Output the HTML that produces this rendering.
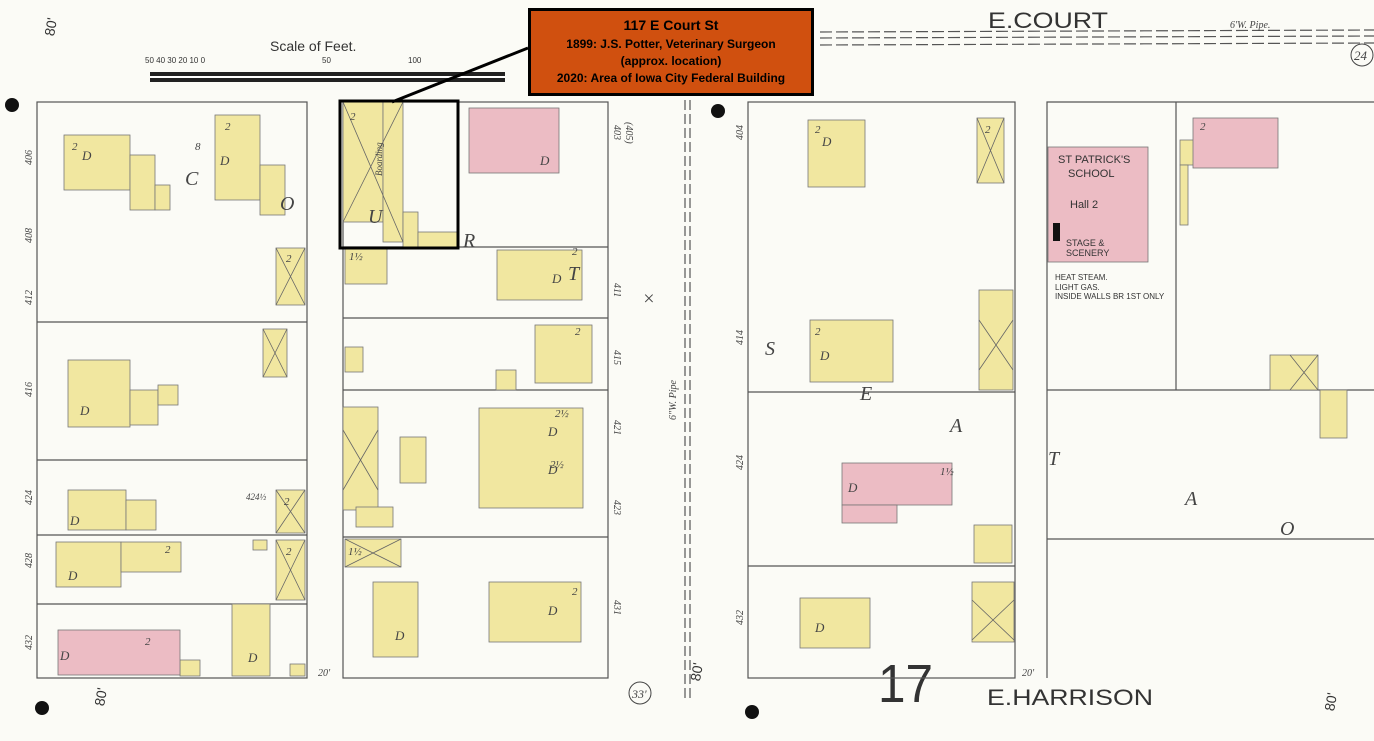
<!DOCTYPE html>
<html><head><meta charset="utf-8"><style>
html,body{margin:0;padding:0;background:#fbfbf6;}
svg{display:block}
.t{font-family:"Liberation Sans",sans-serif;fill:#333}
.i{font-family:"Liberation Serif",serif;font-style:italic;fill:#444}
</style></head><body>
<svg width="1374" height="741" viewBox="0 0 1374 741" xmlns="http://www.w3.org/2000/svg">
<rect width="1374" height="741" fill="#fbfbf6"/>
<g stroke="#555" stroke-width="1.2" fill="none">
<path d="M820 32 L1374 30 M820 38 L1374 36 M820 45 L1374 43" stroke-dasharray="12 4"/>
<path d="M685 100 L685 700 M690 100 L690 700" stroke-dasharray="10 4"/>
</g>
<rect x="150" y="72" width="355" height="10" fill="#222"/>
<rect x="150" y="76" width="355" height="2" fill="#fff"/>
<text x="270" y="51" class="t" font-size="14">Scale of Feet.</text>
<text x="145" y="63" class="t" font-size="8">50  40  30  20  10    0</text>
<text x="322" y="63" class="t" font-size="8">50</text>
<text x="408" y="63" class="t" font-size="8">100</text>
<text x="40" y="40" class="t" font-size="14" transform="rotate(-80 45 30)">80'</text>
<text x="988" y="28" class="t" font-size="22" textLength="120" lengthAdjust="spacingAndGlyphs">E.COURT</text>
<text x="1230" y="28" class="i" font-size="10">6'W. Pipe.</text>
<circle cx="1362" cy="55" r="11" fill="none" stroke="#444"/>
<text x="1354" y="60" class="i" font-size="13">24</text>
<text x="987" y="705" class="t" font-size="22" textLength="166" lengthAdjust="spacingAndGlyphs">E.HARRISON</text>
<text x="878" y="702" class="t" font-size="54" textLength="55" lengthAdjust="spacingAndGlyphs">17</text>
<circle cx="12" cy="105" r="7" fill="#111"/>
<circle cx="42" cy="708" r="7" fill="#111"/>
<circle cx="718" cy="111" r="7" fill="#111"/>
<circle cx="752" cy="712" r="7" fill="#111"/>
<circle cx="640" cy="693" r="11" fill="none" stroke="#444"/>
<text x="632" y="698" class="i" font-size="12">33'</text>
<text x="690" y="690" class="t" font-size="14" transform="rotate(-80 690 680)">80'</text>
<text x="1320" y="715" class="t" font-size="14" transform="rotate(-80 1325 705)">80'</text>
<text x="90" y="710" class="t" font-size="14" transform="rotate(-80 95 700)">80'</text>
<g fill="none" stroke="#555" stroke-width="1.2">
<rect x="37" y="102" width="270" height="576"/>
<path d="M37 322H307M37 460H307M37 535H307M37 604H307"/>
<rect x="343" y="102" width="265" height="576"/>
<path d="M343 247H608M343 318H608M343 390H608M343 537H608"/>
<rect x="748" y="102" width="267" height="576"/>
<path d="M748 392H1015M748 566H1015"/>
<path d="M1047 678V102H1374M1047 390H1374M1047 539H1374M1176 102V390"/>
</g>
<g fill="#f1e7a0" stroke="#777" stroke-width="0.8">
<rect x="64" y="135" width="66" height="55"/><rect x="130" y="155" width="25" height="55"/><rect x="155" y="185" width="15" height="25"/>
<rect x="215" y="115" width="45" height="85"/><rect x="260" y="165" width="25" height="50"/>
<rect x="276" y="248" width="29" height="57"/><rect x="263" y="329" width="24" height="48"/>
<rect x="68" y="360" width="62" height="67"/><rect x="130" y="390" width="28" height="35"/><rect x="158" y="385" width="20" height="20"/>
<rect x="68" y="490" width="58" height="40"/><rect x="126" y="500" width="30" height="30"/>
<rect x="276" y="490" width="29" height="43"/>
<rect x="56" y="542" width="65" height="45"/><rect x="121" y="542" width="60" height="30"/><rect x="253" y="540" width="14" height="10"/>
<rect x="276" y="540" width="29" height="60"/>
<rect x="232" y="604" width="38" height="72"/><rect x="180" y="660" width="20" height="16"/><rect x="290" y="664" width="15" height="12"/>
<rect x="343" y="102" width="40" height="120"/><rect x="383" y="102" width="20" height="140"/><rect x="403" y="212" width="15" height="36"/><rect x="418" y="232" width="40" height="16"/>
<rect x="345" y="248" width="42" height="36"/>
<rect x="497" y="250" width="85" height="50"/>
<rect x="345" y="347" width="18" height="25"/><rect x="496" y="370" width="20" height="20"/>
<rect x="535" y="325" width="57" height="58"/>
<rect x="343" y="407" width="35" height="103"/><rect x="400" y="437" width="26" height="46"/><rect x="356" y="507" width="37" height="20"/>
<rect x="479" y="408" width="104" height="100"/>
<rect x="345" y="539" width="56" height="28"/><rect x="373" y="582" width="45" height="75"/>
<rect x="489" y="582" width="92" height="60"/>
<rect x="808" y="120" width="57" height="67"/><rect x="977" y="118" width="27" height="65"/>
<rect x="810" y="320" width="83" height="62"/>
<rect x="979" y="290" width="34" height="100"/>
<rect x="974" y="525" width="38" height="38"/><rect x="972" y="582" width="42" height="60"/>
<rect x="800" y="598" width="70" height="50"/>
<rect x="1180" y="140" width="20" height="25"/><rect x="1180" y="165" width="8" height="60"/>
<rect x="1270" y="355" width="48" height="35"/><rect x="1320" y="390" width="27" height="48"/>
</g>
<g fill="#ecbcc4" stroke="#777" stroke-width="0.8">
<rect x="469" y="108" width="90" height="65"/>
<rect x="1048" y="147" width="100" height="115"/>
<rect x="1193" y="118" width="85" height="50"/>
<rect x="842" y="463" width="110" height="42"/><rect x="842" y="505" width="55" height="18"/>
<rect x="58" y="630" width="122" height="45"/>
</g>
<!-- X marks (sheds) -->
<g stroke="#666" stroke-width="0.8">
<path d="M276 248L305 305M305 248L276 305M263 329L287 377M287 329L263 377M276 490L305 533M305 490L276 533M276 540L305 600M305 540L276 600"/>
<path d="M343 102L403 242M403 102L343 222M343 430L378 490M378 430L343 490M345 539L401 567M401 539L345 567"/>
<path d="M977 118L1004 183M1004 118L977 183M979 320L1013 370M1013 320L979 370M972 600L1014 640M1014 600L972 640M1290 355L1318 390M1318 355L1290 390"/>
</g>
<!-- building letters -->
<g class="i" font-size="13">
<text x="82" y="160">D</text><text x="220" y="165">D</text><text x="80" y="415">D</text><text x="70" y="525">D</text><text x="68" y="580">D</text>
<text x="248" y="662">D</text><text x="540" y="165">D</text><text x="552" y="283">D</text><text x="548" y="436">D</text><text x="548" y="474">D</text>
<text x="395" y="640">D</text><text x="548" y="615">D</text><text x="822" y="146">D</text><text x="820" y="360">D</text><text x="848" y="492">D</text>
<text x="815" y="632">D</text><text x="60" y="660">D</text>
</g>
<g class="i" font-size="11">
<text x="72" y="150">2</text><text x="195" y="150">8</text><text x="225" y="130">2</text><text x="286" y="262">2</text><text x="284" y="505">2</text><text x="286" y="555">2</text><text x="165" y="553">2</text><text x="145" y="645">2</text>
<text x="350" y="120">2</text><text x="349" y="260">1½</text><text x="572" y="255">2</text><text x="575" y="335">2</text><text x="555" y="417">2½</text><text x="550" y="468">2½</text><text x="572" y="595">2</text><text x="348" y="555">1½</text>
<text x="815" y="133">2</text><text x="985" y="133">2</text><text x="815" y="335">2</text><text x="940" y="475">1½</text><text x="1200" y="130">2</text>
</g>
<g class="t" font-size="9">
<text x="1058" y="163" font-size="11">ST PATRICK'S</text><text x="1068" y="177" font-size="11">SCHOOL</text>
<text x="1070" y="208" font-size="11">Hall 2</text><text x="1066" y="246">STAGE &amp;</text><text x="1066" y="256">SCENERY</text>
<text x="1055" y="280" font-size="8">HEAT STEAM.</text><text x="1055" y="290" font-size="8">LIGHT GAS.</text><text x="1055" y="299" font-size="8">INSIDE WALLS BR 1ST ONLY</text>
<text x="246" y="500" class="i">424½</text><text x="346" y="200" class="i" transform="rotate(-90 352 170)">Boarding</text>
</g>
<rect x="1053" y="223" width="7" height="18" fill="#111"/>
<!-- big lettering -->
<g class="i" font-size="20" fill="#333">
<text x="185" y="185">C</text><text x="280" y="210">O</text><text x="368" y="223">U</text><text x="463" y="247">R</text><text x="568" y="280">T</text><text x="642" y="305">×</text>
<text x="765" y="355">S</text><text x="860" y="400">E</text><text x="950" y="432">A</text><text x="1048" y="465">T</text><text x="1185" y="505">A</text><text x="1280" y="535">O</text>
</g>
<!-- side numbers -->
<g class="i" font-size="10">
<text transform="translate(32,165) rotate(-90)">406</text><text transform="translate(32,243) rotate(-90)">408</text><text transform="translate(32,305) rotate(-90)">412</text>
<text transform="translate(32,397) rotate(-90)">416</text><text transform="translate(32,505) rotate(-90)">424</text><text transform="translate(32,568) rotate(-90)">428</text><text transform="translate(32,650) rotate(-90)">432</text>
<text transform="translate(614,125) rotate(90)">403</text><text transform="translate(626,122) rotate(90)">(405)</text><text transform="translate(614,283) rotate(90)">411</text><text transform="translate(614,350) rotate(90)">415</text>
<text transform="translate(614,420) rotate(90)">421</text><text transform="translate(614,500) rotate(90)">423</text><text transform="translate(614,600) rotate(90)">431</text>
<text transform="translate(743,140) rotate(-90)">404</text><text transform="translate(743,345) rotate(-90)">414</text><text transform="translate(743,470) rotate(-90)">424</text><text transform="translate(743,625) rotate(-90)">432</text>
<text transform="translate(676,420) rotate(-90)">6"W. Pipe</text>
<text x="318" y="676">20'</text><text x="1022" y="676">20'</text>
</g>
<rect x="340" y="101" width="118" height="147" fill="none" stroke="#000" stroke-width="3"/>
<line x1="528" y1="48" x2="392" y2="102" stroke="#000" stroke-width="3"/>
<rect x="529.5" y="9.5" width="283" height="85" fill="#d0500f" stroke="#000" stroke-width="3"/>
<g font-family="Liberation Sans,sans-serif" font-weight="bold" fill="#000" text-anchor="middle">
<text x="671" y="30" font-size="14">117 E Court St</text>
<text x="671" y="48" font-size="12">1899: J.S. Potter, Veterinary Surgeon</text>
<text x="671" y="65" font-size="12">(approx. location)</text>
<text x="671" y="82" font-size="12">2020: Area of Iowa City Federal Building</text>
</g>
</svg>
</body></html>
